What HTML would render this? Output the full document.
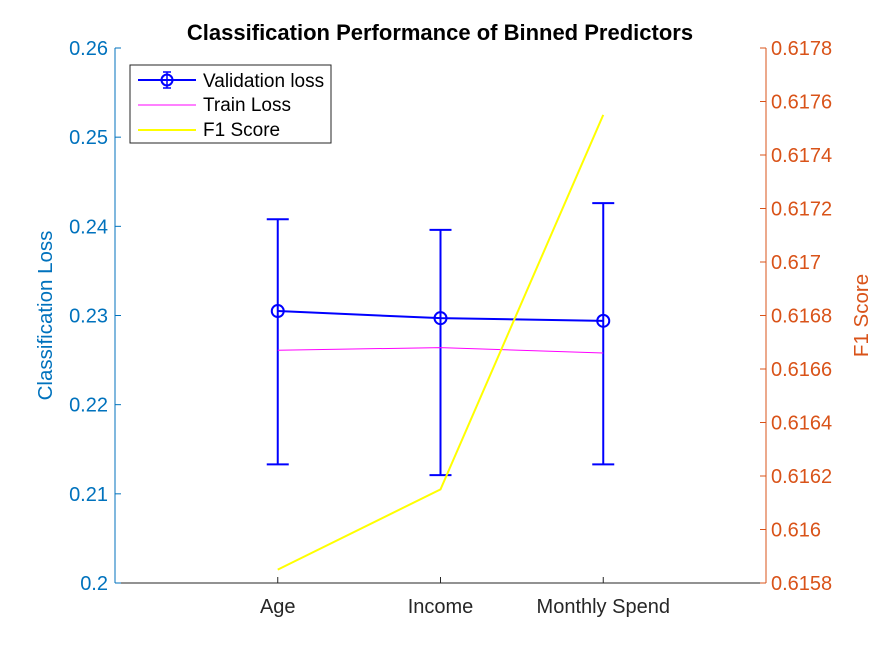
<!DOCTYPE html>
<html><head><meta charset="utf-8"><style>
body{margin:0;background:#fff;}
svg{display:block;font-family:"Liberation Sans",Arial,sans-serif;}
</style></head><body>
<svg id="chart" width="875" height="656">
<rect x="0" y="0" width="875" height="656" fill="#fff"/>
<text x="440" y="40" text-anchor="middle" font-size="22" font-weight="bold" fill="#000">Classification Performance of Binned Predictors</text>
<g id="axes"></g>
<g id="marks"></g>
<g id="legend">
<rect x="130" y="65" width="201" height="78" fill="#fff" stroke="#262626" stroke-width="1"/>
<g>
<line x1="138" y1="80" x2="196" y2="80" stroke="#0000ff" stroke-width="2"/>
<line x1="167" y1="72" x2="167" y2="88" stroke="#0000ff" stroke-width="1.5"/>
<line x1="163" y1="72" x2="171" y2="72" stroke="#0000ff" stroke-width="1.5"/>
<line x1="163" y1="88" x2="171" y2="88" stroke="#0000ff" stroke-width="1.5"/>
<circle cx="167" cy="80" r="5.5" fill="none" stroke="#0000ff" stroke-width="2"/>
<text x="203" y="87" font-size="19" fill="#000">Validation loss</text></g>
<g>
<line x1="138" y1="105" x2="196" y2="105" stroke="#ff00ff" stroke-width="1"/>
<text x="203" y="111" font-size="19" fill="#000">Train Loss</text></g>
<g>
<line x1="138" y1="130" x2="196" y2="130" stroke="#ffff00" stroke-width="2"/>
<text x="203" y="136" font-size="19" fill="#000">F1 Score</text></g>
</g>
</svg>
<script>
const categories=["Age","Income","Monthly Spend"];
const valLoss=[0.2305,0.2297,0.2294];
const valUpper=[0.2408,0.2396,0.2426];
const valLower=[0.2133,0.2121,0.2133];
const trainLoss=[0.2261,0.2264,0.2258];
const f1Score=[0.61585,0.61615,0.61755];
const leftTicks=[0.2,0.21,0.22,0.23,0.24,0.25,0.26];
const leftTickLabels=["0.2","0.21","0.22","0.23","0.24","0.25","0.26"];
const rightTicks=[0.6158,0.616,0.6162,0.6164,0.6166,0.6168,0.617,0.6172,0.6174,0.6176,0.6178];
const rightTickLabels=["0.6158","0.616","0.6162","0.6164","0.6166","0.6168","0.617","0.6172","0.6174","0.6176","0.6178"];
const L=115,R=766,T=48,B=583;
const xs=i=>L+(i+1)*(R-L)/4;
const yl=v=>B-(v-0.2)/(0.06)*(B-T);
const yr=v=>B-(v-0.6158)/(0.002)*(B-T);
const NS="http://www.w3.org/2000/svg";
function mk(tag,attrs,parent,txt){const e=document.createElementNS(NS,tag);for(const k in attrs)e.setAttribute(k,attrs[k]);if(txt!==undefined)e.textContent=txt;parent.appendChild(e);return e;}
const ax=document.getElementById('axes'),mg=document.getElementById('marks');
const blue="#0072bd",orange="#d95319";
let e;
e=mk('line',{x1:L,y1:T,x2:L,y2:B,stroke:blue,'stroke-width':1},ax);


e=mk('line',{x1:R,y1:T,x2:R,y2:B,stroke:orange,'stroke-width':1},ax);


e=mk('line',{x1:L,y1:B,x2:R,y2:B,stroke:"#262626",'stroke-width':1},ax);


leftTicks.forEach((v,i)=>{const y=yl(v);
mk('line',{x1:L,y1:y,x2:L+6,y2:y,stroke:blue},ax);
e=mk('text',{x:L-7,y:y+7,'text-anchor':'end','font-size':20,fill:blue},ax,leftTickLabels[i]);

});
rightTicks.forEach((v,i)=>{const y=yr(v);
mk('line',{x1:R-6,y1:y,x2:R,y2:y,stroke:orange},ax);
e=mk('text',{x:R+5,y:y+7,'font-size':20,fill:orange},ax,rightTickLabels[i]);

});
categories.forEach((c,i)=>{const x=xs(i);
mk('line',{x1:x,y1:B,x2:x,y2:B-6,stroke:"#262626"},ax);
e=mk('text',{x:x,y:B+30,'text-anchor':'middle','font-size':20,fill:"#262626"},ax,c);

});
e=mk('text',{x:0,y:0,transform:`translate(52,${(T+B)/2}) rotate(-90)`,'text-anchor':'middle','font-size':20.5,fill:blue},ax,"Classification Loss");


e=mk('text',{x:0,y:0,transform:`translate(868,${(T+B)/2}) rotate(-90)`,'text-anchor':'middle','font-size':20.5,fill:orange},ax,"F1 Score");


e=mk('polyline',{points:valLoss.map((v,i)=>xs(i)+','+yl(v)).join(' '),fill:'none',stroke:'#0000ff','stroke-width':2},mg);


valLoss.forEach((v,i)=>{const x=xs(i);
const g=mk('g',{},mg);


mk('line',{x1:x,y1:yl(valUpper[i]),x2:x,y2:yl(valLower[i]),stroke:'#0000ff','stroke-width':2},g);
mk('line',{x1:x-11,y1:yl(valUpper[i]),x2:x+11,y2:yl(valUpper[i]),stroke:'#0000ff','stroke-width':2},g);
mk('line',{x1:x-11,y1:yl(valLower[i]),x2:x+11,y2:yl(valLower[i]),stroke:'#0000ff','stroke-width':2},g);
mk('circle',{cx:x,cy:yl(v),r:6,fill:'none',stroke:'#0000ff','stroke-width':2},g);});
e=mk('polyline',{points:trainLoss.map((v,i)=>xs(i)+','+yl(v)).join(' '),fill:'none',stroke:'#ff00ff','stroke-width':1},mg);


e=mk('polyline',{points:f1Score.map((v,i)=>xs(i)+','+yr(v)).join(' '),fill:'none',stroke:'#ffff00','stroke-width':2},mg);


</script>
</body></html>
